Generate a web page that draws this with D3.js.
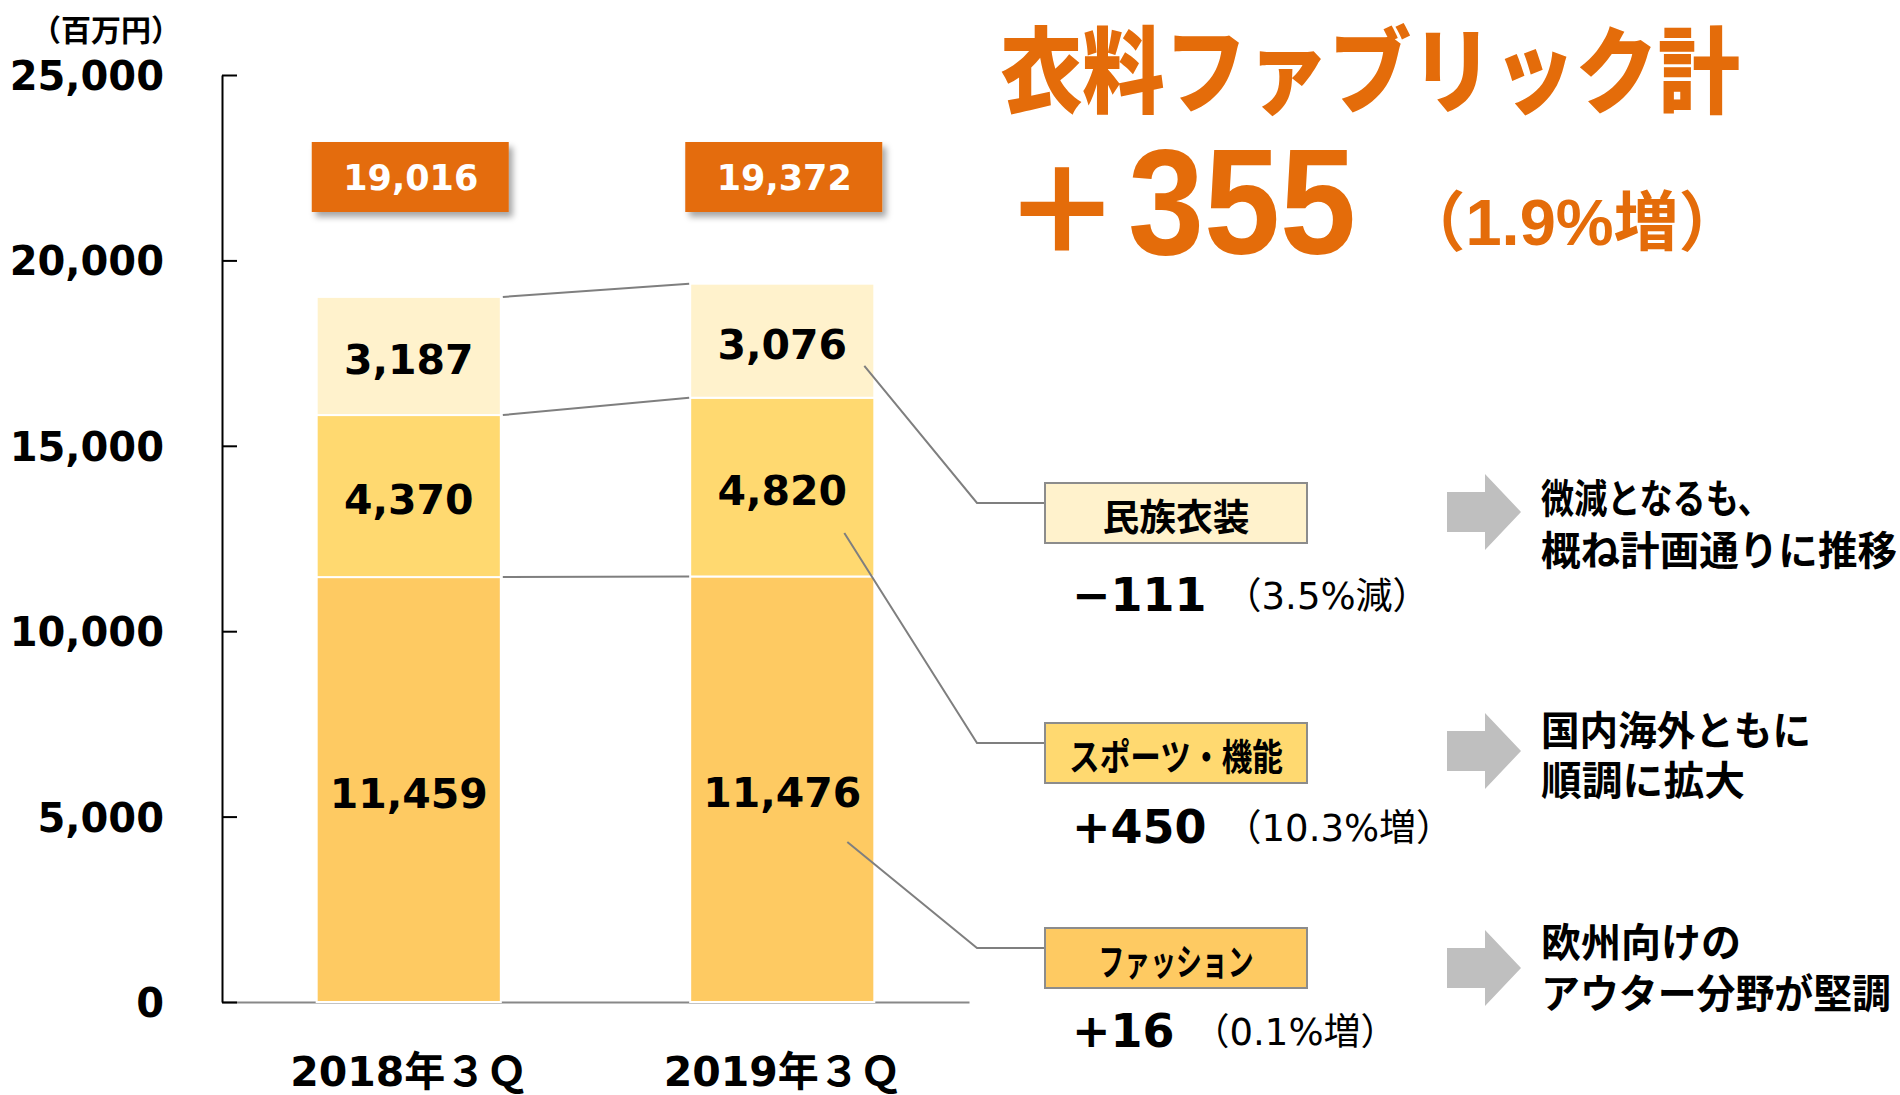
<!DOCTYPE html>
<html lang="ja">
<head>
<meta charset="UTF-8">
<title>衣料ファブリック計</title>
<script src="https://cdn.jsdelivr.net/npm/d3@7"></script>
<style>
  body { margin: 0; background: #fff; }
  svg { display: block; }
</style>
</head>
<body>
<script>
// --- data ---
var categories = ["2018年３Ｑ", "2019年３Ｑ"];
var segmentNames = ["ファッション", "スポーツ・機能", "民族衣装"];
var fashion = [11459, 11476];
var sports = [4370, 4820];
var ethnic = [3187, 3076];
var totals = [19016, 19372];
var yTicks = [0, 5000, 10000, 15000, 20000, 25000];
var diffs = [16, 450, -111];               // ファッション, スポーツ・機能, 民族衣装
var diffPct = ["（0.1%増）", "（10.3%増）", "（3.5%減）"];
var comments = [
  ["欧州向けの", "アウター分野が堅調"],
  ["国内海外ともに", "順調に拡大"],
  ["微減となるも、", "概ね計画通りに推移"]
];
var titleText = "衣料ファブリック計";
var totalDiff = 355;
var totalPct = "（1.9%増）";
var unitLabel = "（百万円）";

// --- layout ---
var width = 1900, height = 1095;
var orange = "#E46C0A";
var segColors = ["#FECA62", "#FFD970", "#FFF2CC"];
var numFont = "'DejaVu Sans', 'Noto Sans CJK JP', sans-serif";
var jpFont = "'Noto Sans CJK JP', sans-serif";
var calloutY = [948, 743, 503];      // horizontal part of the callout lines
var calloutFrac = [0.376, 0.243, 0.28];
var calloutDx = [27, 30, 10];
var valueY = [1030, 826, 594];
var arrowY = [968, 751, 512];
var commentY = [[940, 991], [728, 778], [496, 548]];
var boxTextLen = [155, 214, 147];
var commentLen = [[200, 350], [270, 204], [230, 356]];

var svg = d3.select("body").append("svg").attr("width", width).attr("height", height);

var defs = svg.append("defs");
var f = defs.append("filter").attr("id", "shadow").attr("x", "-20%").attr("y", "-20%").attr("width", "150%").attr("height", "160%");
f.append("feDropShadow").attr("dx", 4).attr("dy", 5).attr("stdDeviation", 3)
  .attr("flood-color", "#000").attr("flood-opacity", 0.35);

var y = d3.scaleLinear().domain([0, 25000]).range([1002, 75]);
var x = d3.scaleBand().domain(categories).range([222, 969]).paddingInner(0.507).paddingOuter(0.2535);
var bw = x.bandwidth();

// stacked data
var rows = categories.map(function(c, i) {
  return { cat: c, fashion: fashion[i], sports: sports[i], ethnic: ethnic[i] };
});
var keys = ["fashion", "sports", "ethnic"];
var stacked = d3.stack().keys(keys)(rows);

// x axis (line + labels)
var xAxis = svg.append("g").attr("transform", "translate(0," + y(0) + ")")
  .call(d3.axisBottom(x).tickSize(0).tickPadding(55));
xAxis.select(".domain").attr("stroke", "#888").attr("stroke-width", 2);
xAxis.selectAll("text").attr("font-family", numFont).attr("font-weight", "bold")
  .attr("font-size", 41).attr("fill", "#000");

// bars
svg.append("g").selectAll("g").data(stacked).enter().append("g")
  .attr("fill", function(d, i) { return segColors[i]; })
  .selectAll("rect").data(function(d) { return d; }).enter().append("rect")
  .attr("x", function(d) { return x(d.data.cat); })
  .attr("y", function(d) { return y(d[1]); })
  .attr("width", bw)
  .attr("height", function(d) { return y(d[0]) - y(d[1]); })
  .attr("stroke", "#fff").attr("stroke-width", 2);

// segment labels
svg.append("g").selectAll("g").data(stacked).enter().append("g")
  .selectAll("text").data(function(d) { return d; }).enter().append("text")
  .attr("x", function(d) { return x(d.data.cat) + bw / 2; })
  .attr("y", function(d) { return (y(d[0]) + y(d[1])) / 2 + 18; })
  .attr("text-anchor", "middle")
  .attr("font-family", numFont).attr("font-weight", "bold").attr("font-size", 41)
  .text(function(d) { return d3.format(",")(d[1] - d[0]); });

// connector lines between the two bars
var c0 = categories[0], c1 = categories[1];
stacked.forEach(function(layer) {
  svg.append("line")
    .attr("x1", x(c0) + bw + 2).attr("y1", y(layer[0][1]))
    .attr("x2", x(c1) - 1).attr("y2", y(layer[1][1]))
    .attr("stroke", "#7f7f7f").attr("stroke-width", 2);
});

// y axis
var yAxis = svg.append("g").attr("transform", "translate(" + x.range()[0] + ",0)")
  .call(d3.axisLeft(y).tickValues(yTicks).tickFormat(d3.format(","))
    .tickSize(-15).tickSizeOuter(0).tickPadding(58));
yAxis.select(".domain").attr("stroke", "#000").attr("stroke-width", 2);
yAxis.selectAll(".tick line").attr("stroke", "#000").attr("stroke-width", 2);
yAxis.selectAll("text").attr("font-family", numFont).attr("font-weight", "bold")
  .attr("font-size", 40).attr("fill", "#000").attr("dy", "0.36em");

svg.append("text").attr("x", 106).attr("y", 28)
  .attr("text-anchor", "middle").attr("dominant-baseline", "central")
  .attr("font-family", jpFont).attr("font-weight", "bold").attr("font-size", 30)
  .text(unitLabel);

// total boxes
var tb = svg.append("g").selectAll("g").data(categories).enter().append("g");
tb.append("rect")
  .attr("x", function(d) { return x(d) + bw / 2 - 97; })
  .attr("y", 142).attr("width", 197).attr("height", 70)
  .attr("fill", orange).attr("filter", "url(#shadow)");
tb.append("text")
  .attr("x", function(d) { return x(d) + bw / 2 + 2; })
  .attr("y", 190).attr("text-anchor", "middle")
  .attr("font-family", numFont).attr("font-weight", "bold").attr("font-size", 35)
  .attr("fill", "#fff")
  .text(function(d, i) { return d3.format(",")(totals[i]); });

// title
svg.append("text").attr("x", 1370).attr("y", 65)
  .attr("text-anchor", "middle").attr("dominant-baseline", "central")
  .attr("font-family", jpFont).attr("font-weight", 900).attr("font-size", 94)
  .attr("textLength", 740).attr("lengthAdjust", "spacingAndGlyphs")
  .attr("fill", orange).text(titleText);
svg.append("text").attr("x", 1062).attr("y", 202)
  .attr("text-anchor", "middle").attr("dominant-baseline", "central")
  .attr("font-family", jpFont).attr("font-weight", 900).attr("font-size", 118)
  .attr("fill", orange).text("＋");
svg.append("text").attr("x", 1128).attr("y", 254)
  .attr("font-family", "'Liberation Sans', Arial, sans-serif").attr("font-weight", "bold")
  .attr("font-size", 150).attr("textLength", 228).attr("lengthAdjust", "spacingAndGlyphs")
  .attr("fill", orange).text(totalDiff);
svg.append("text").attr("x", 1572).attr("y", 245)
  .attr("text-anchor", "middle")
  .attr("font-family", "'Liberation Sans', 'Noto Sans CJK JP', sans-serif").attr("font-weight", "bold")
  .attr("font-size", 65).attr("fill", orange).text(totalPct);

// callouts, legend boxes, diffs, arrows, comments
var bar2 = x(c1) + bw;
keys.forEach(function(k, i) {
  var seg = stacked[i][1];
  var sy = y(seg[0] + (seg[1] - seg[0]) * calloutFrac[i]);
  svg.append("polyline")
    .attr("points", [[bar2 - calloutDx[i], sy], [977, calloutY[i]], [1045, calloutY[i]]].join(" "))
    .attr("fill", "none").attr("stroke", "#7f7f7f").attr("stroke-width", 2);

  var top = calloutY[i] - 20;
  svg.append("rect").attr("x", 1045).attr("y", top).attr("width", 262).attr("height", 60)
    .attr("fill", segColors[i]).attr("stroke", "#8c8c8c").attr("stroke-width", 2);
  svg.append("text").attr("x", 1176).attr("y", top + 32)
    .attr("text-anchor", "middle").attr("dominant-baseline", "central")
    .attr("font-family", jpFont).attr("font-weight", "bold").attr("font-size", 37)
    .attr("textLength", boxTextLen[i]).attr("lengthAdjust", "spacingAndGlyphs")
    .text(segmentNames[i]);

  var v = svg.append("text").attr("x", 1072).attr("y", valueY[i] + 17)
    .attr("font-family", numFont).attr("font-weight", "bold").attr("font-size", 46)
    .text((diffs[i] < 0 ? "\u2212" : "+") + Math.abs(diffs[i]));
  var vw = v.node().getComputedTextLength();
  svg.append("text").attr("x", 1072 + vw + 18).attr("y", valueY[i] + 15)
    .attr("font-family", numFont).attr("font-size", 37)
    .text(diffPct[i]);

  var ay = arrowY[i];
  svg.append("path")
    .attr("d", "M1447," + (ay - 20) + "H1485V" + (ay - 38) + "L1521," + ay + "L1485," + (ay + 38) +
      "V" + (ay + 20) + "H1447Z")
    .attr("fill", "#bfbfbf");

  comments[i].forEach(function(line, j) {
    svg.append("text").attr("x", 1541).attr("y", commentY[i][j])
      .attr("dominant-baseline", "central")
      .attr("font-family", jpFont).attr("font-weight", "bold").attr("font-size", 40)
      .attr("textLength", commentLen[i][j]).attr("lengthAdjust", "spacingAndGlyphs")
      .text(line);
  });
});
</script>
</body>
</html>
